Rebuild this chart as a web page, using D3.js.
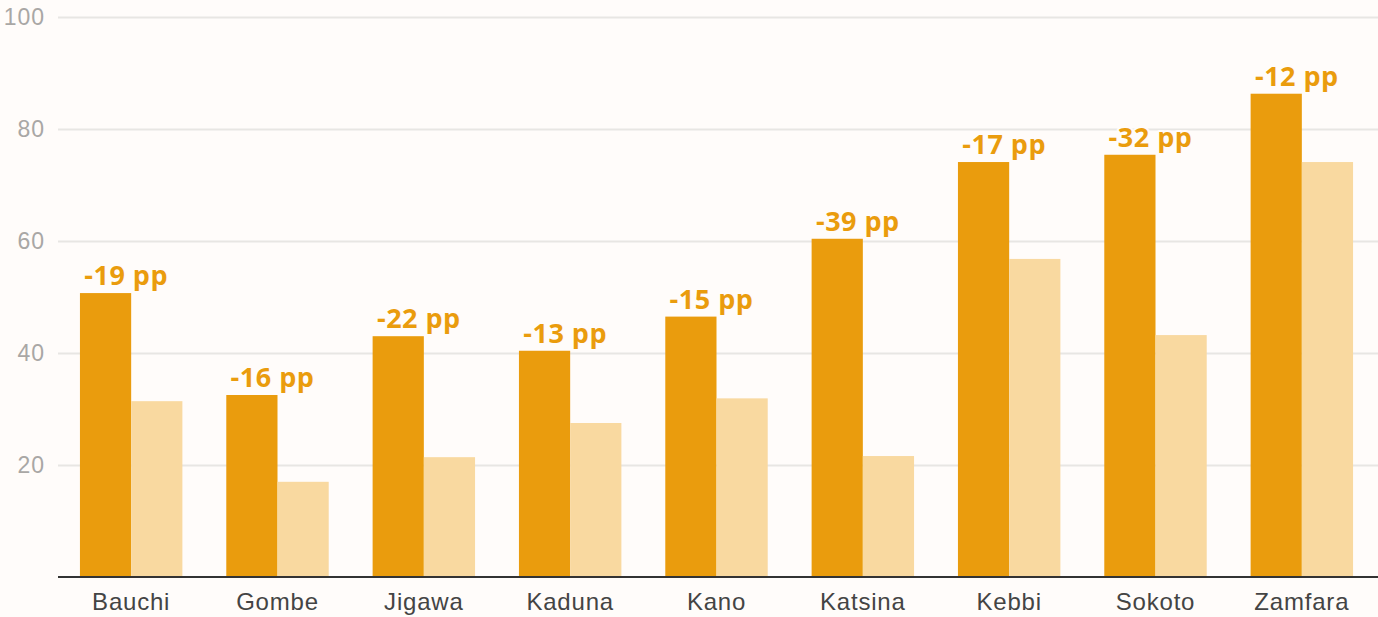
<!DOCTYPE html>
<html>
<head>
<meta charset="utf-8">
<script src="https://cdn.jsdelivr.net/npm/d3@7"></script>
<style>
  html, body { margin: 0; padding: 0; background: #fffcfa; }
  svg { display: block; font-family: "Open Sans", sans-serif; }
</style>
</head>
<body>
<svg width="1378" height="617"></svg>
<script>
// states, before / after shares (%) and the change label
const states = ["Bauchi", "Gombe", "Jigawa", "Kaduna", "Kano", "Katsina", "Kebbi", "Sokoto", "Zamfara"]
const before = [50.7, 32.5, 43.0, 40.4, 46.5, 60.4, 74.1, 75.4, 86.3]
const after = [31.4, 17.0, 21.4, 27.5, 31.9, 21.6, 56.8, 43.2, 74.1]
const changeLabels = ["-19 pp", "-16 pp", "-22 pp", "-13 pp", "-15 pp", "-39 pp", "-17 pp", "-32 pp", "-12 pp"]
const yTicks = [20, 40, 60, 80, 100]

const colDark = "#ea9c0d"
const colLight = "#f9d9a0"
const bg = "#fffcfa"

const width = 1378, height = 617
const margin = {top: 17, right: 3, bottom: 40, left: 58}

const svg = d3.select("svg")

const x = d3.scaleBand()
  .domain(states)
  .range([margin.left, width - margin.right])
  .paddingInner(0.3)
  .paddingOuter(0.15)

const xSub = d3.scaleBand()
  .domain(["before", "after"])
  .range([0, x.bandwidth()])

const y = d3.scaleLinear()
  .domain([0, 100])
  .range([height - margin.bottom, margin.top])

// grid
svg.append("g")
  .attr("transform", `translate(${margin.left},0)`)
  .call(d3.axisLeft(y).tickValues(yTicks).tickSize(-(width - margin.left)).tickPadding(13))
  .call(g => g.select(".domain").remove())
  .call(g => g.selectAll(".tick line").attr("stroke", "#e8e6e3").attr("stroke-width", 2))
  .call(g => g.selectAll(".tick text")
    .attr("fill", "#a9a7a5")
    .attr("font-size", "23px")
    .attr("letter-spacing", "1px")
    .attr("font-weight", 300))

const data = states.map((s, i) => ({state: s, before: before[i], after: after[i], label: changeLabels[i]}))

const grp = svg.append("g")
  .selectAll("g")
  .data(data)
  .join("g")
  .attr("transform", d => `translate(${x(d.state)},0)`)

grp.append("rect")
  .attr("x", xSub("before"))
  .attr("width", xSub.bandwidth())
  .attr("y", d => y(d.before))
  .attr("height", d => y(0) - y(d.before))
  .attr("fill", colDark)

grp.append("rect")
  .attr("x", xSub("after"))
  .attr("width", xSub.bandwidth())
  .attr("y", d => y(d.after))
  .attr("height", d => y(0) - y(d.after))
  .attr("fill", colLight)

grp.append("text")
  .attr("x", x.bandwidth() / 2 - 5)
  .attr("y", d => y(d.before) - 8)
  .attr("text-anchor", "middle")
  .attr("font-size", "27px")
  .attr("font-weight", 700)
  .attr("letter-spacing", "0.5px")
  .attr("fill", colDark)
  .attr("stroke", bg)
  .attr("stroke-width", 4)
  .attr("paint-order", "stroke")
  .attr("stroke-linejoin", "round")
  .text(d => d.label)

// x axis
svg.append("g")
  .attr("transform", `translate(0,${y(0)})`)
  .call(d3.axisBottom(x).tickSize(0).tickPadding(16))
  .call(g => g.select(".domain").attr("stroke", "#333").attr("stroke-width", 2)
    .attr("d", `M${margin.left},0H${width}`))
  .call(g => g.selectAll(".tick text")
    .attr("fill", "#444")
    .attr("font-size", "24px")
    .attr("letter-spacing", "0.8px")
    .attr("font-weight", 400))
</script>
</body>
</html>
